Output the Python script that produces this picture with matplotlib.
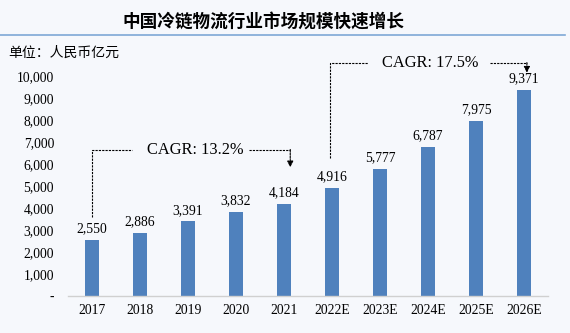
import numpy as np
import matplotlib
matplotlib.use('Agg')
import matplotlib.pyplot as plt

####################################################################################
# Data

years = ['2017', '2018', '2019', '2020', '2021', '2022E', '2023E', '2024E', '2025E', '2026E']
market_size = [2550, 2886, 3391, 3832, 4184, 4916, 5777, 6787, 7975, 9371]
y_ticks = [0, 1000, 2000, 3000, 4000, 5000, 6000, 7000, 8000, 9000, 10000]

title = '中国冷链物流行业市场规模快速增长'
unit = '单位：人民币亿元'
cagr_1 = 'CAGR: 13.2%'
cagr_2 = 'CAGR: 17.5%'

bar_col = '#4F81BD'
bg_col = '#F6F8FC'
serif = 'Liberation Serif'
cjk = ['Noto Sans CJK SC', 'DejaVu Sans']

####################################################################################

fig = plt.figure(figsize=(5.7, 3.33), dpi=100, facecolor=bg_col)
ax = fig.add_axes([0.1193, 0.1111, 0.8421, 0.6607])
ax.set_facecolor(bg_col)

x = np.arange(len(years))
ax.bar(x, market_size, width=0.31, color=bar_col, zorder=2)

for xi, v in zip(x, market_size):
    ax.text(xi, v + 200, f'{v:,}', ha='center', va='bottom',
            fontsize=9.8, family=serif)

ax.set_xlim(-0.5, len(years) - 0.5)
ax.set_ylim(0, 10000)
ax.set_xticks(x)
ax.set_xticklabels(years, fontsize=9.8, family=serif)
ax.set_yticks(y_ticks)
ax.set_yticklabels(['-' if t == 0 else f'{t:,}' for t in y_ticks], fontsize=9.8, family=serif)
ax.tick_params(length=0, pad=6)
ax.tick_params(axis='y', pad=10)

for s in ['top', 'right', 'left']:
    ax.spines[s].set_visible(False)
ax.spines['bottom'].set_color('#D0D0D0')
ax.spines['bottom'].set_linewidth(1)

# CAGR annotations
ls = dict(color='black', lw=0.8, linestyle=(0, (2, 1)), clip_on=False)

ax.plot([0, 0, 0.84], [3590, 6640, 6640], **ls)
ax.text(1.15, 6640, cagr_1, ha='left', va='center', fontsize=11.8, family=serif)
ax.plot([3.28, 4.13], [6640, 6640], **ls)
ax.annotate('', xy=(4.13, 5850), xytext=(4.13, 6660), annotation_clip=False,
            arrowprops=dict(arrowstyle='-|>', color='black', lw=0.8,
                            linestyle=(0, (2, 1)), mutation_scale=9,
                            shrinkA=0, shrinkB=0))

ax.plot([4.96, 4.96, 5.75], [6270, 10590, 10590], **ls)
ax.text(6.05, 10590, cagr_2, ha='left', va='center', fontsize=11.8, family=serif)
ax.plot([8.29, 9.06], [10590, 10590], **ls)
ax.annotate('', xy=(9.06, 10150), xytext=(9.06, 10610), annotation_clip=False,
            arrowprops=dict(arrowstyle='-|>', color='black', lw=0.8,
                            linestyle=(0, (2, 1)), mutation_scale=9,
                            shrinkA=0, shrinkB=0))

# title, rule and unit
fig.text(263 / 570, 1 - 22 / 333, title, ha='center', va='center',
         fontsize=12.7, fontweight='bold', family=cjk)
fig.add_artist(plt.Line2D([0.0, 565 / 570], [1 - 35 / 333, 1 - 35 / 333],
                          color='#7FA8D6', lw=1.2))
fig.text(8 / 570, 1 - 53 / 333, unit, ha='left', va='center', fontsize=10, family=cjk)

plt.savefig('out.png', dpi=100, facecolor=bg_col)
